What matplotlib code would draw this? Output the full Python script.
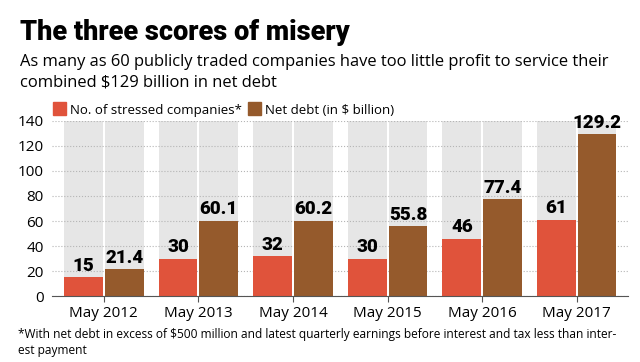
import matplotlib.pyplot as plt
import numpy as np

years = ["May 2012", "May 2013", "May 2014", "May 2015", "May 2016", "May 2017"]
stressed = [15, 30, 32, 30, 46, 61]
net_debt = [21.4, 60.1, 60.2, 55.8, 77.4, 129.2]
yticks = [0, 20, 40, 60, 80, 100, 120, 140]

red = "#e0533b"
brown = "#955a2c"
band = "#e6e6e6"

plt.rcParams['font.family'] = ['Open Sans', 'DejaVu Sans']

fig = plt.figure(figsize=(6.4, 3.62), dpi=100)
ax = fig.add_axes([0.081, 0.182, 0.9, 0.484])

x = np.arange(len(years))
w = 0.41
off = 0.215

# grey background behind each bar
ax.bar(x - off, [140] * len(x), w, color=band, zorder=0)
ax.bar(x + off, [140] * len(x), w, color=band, zorder=0)

ax.bar(x - off, stressed, w, color=red, zorder=2)
ax.bar(x + off, net_debt, w, color=brown, zorder=2)

for xi, v in zip(x, stressed):
    ax.text(xi - off, v + 2, str(v), ha='center', va='bottom', fontsize=13.5,
            fontweight='black', family=['Roboto', 'DejaVu Sans'], clip_on=False)
for xi, v in zip(x, net_debt):
    ax.text(xi + off, v + 2, f"{v:.1f}", ha='center', va='bottom', fontsize=13.5,
            fontweight='black', family=['Roboto', 'DejaVu Sans'], clip_on=False)

ax.set_ylim(0, 140)
ax.set_xlim(-0.55, 5.54)
ax.set_yticks(yticks)
ax.set_xticks(x)
ax.set_xticklabels(years)
ax.tick_params(axis='y', length=0, labelsize=11, pad=6)
ax.tick_params(axis='x', length=4, color='#555555', labelsize=11, pad=3, direction='out')
ax.yaxis.grid(True, linestyle=':', color='#b5b5b5', linewidth=0.8, zorder=1)
ax.set_axisbelow(True)
for s in ['top', 'right', 'left']:
    ax.spines[s].set_visible(False)
ax.spines['bottom'].set_color('#555555')
ax.spines['bottom'].set_linewidth(0.8)

# title block
fig.text(0.031, 0.89, "The three scores of misery", fontsize=19.5, fontweight='black',
         family=['Roboto', 'DejaVu Sans'], va='baseline')
fig.text(0.031, 0.818, "As many as 60 publicly traded companies have too little profit to service their",
         fontsize=11.9, va='baseline')
fig.text(0.031, 0.762, "combined $129 billion in net debt", fontsize=11.9, va='baseline')

# legend
fig.patches.append(plt.Rectangle((0.083, 0.682), 0.02, 0.035, transform=fig.transFigure,
                                 color=red, figure=fig))
fig.text(0.110, 0.686, "No. of stressed companies*", fontsize=9.5, va='baseline')
fig.patches.append(plt.Rectangle((0.388, 0.682), 0.02, 0.035, transform=fig.transFigure,
                                 color=brown, figure=fig))
fig.text(0.414, 0.686, "Net debt (in $ billion)", fontsize=9.5, va='baseline')

# footnote
fig.text(0.028, 0.066, "*With net debt in excess of $500 million and latest quarterly earnings before interest and tax less than inter-",
         fontsize=8.6, va='baseline')
fig.text(0.028, 0.022, "est payment", fontsize=8.6, va='baseline')

fig.savefig("out.png", dpi=100)
